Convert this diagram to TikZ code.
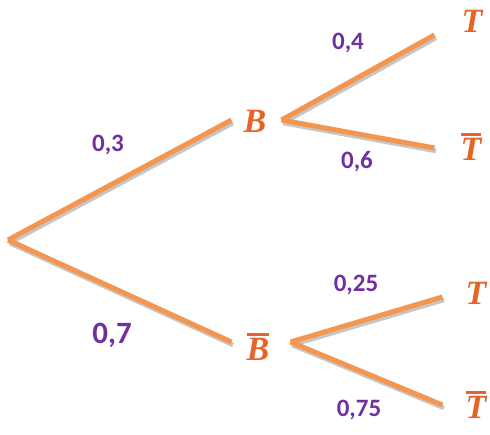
\documentclass[tikz,border=0pt]{standalone}
\usepackage{fontspec}
\setmainfont{Carlito}
\newfontfamily\letterfont{Liberation Serif}
\usetikzlibrary{positioning,calc}
\definecolor{brorange}{RGB}{245,150,80}
\definecolor{ltorange}{RGB}{230,100,40}
\definecolor{prpl}{RGB}{112,48,160}
\newcommand{\barletter}[1]{\vbox{\hrule height 3pt\kern 2.5pt\hbox{#1}}}

\begin{document}
\begin{tikzpicture}[
  x=1pt,y=1pt,
  branch/.style={line width=5pt,draw=brorange,
    preaction={draw=gray!45,line width=4.5pt,
      transform canvas={xshift=1.5pt,yshift=-3pt}}},
  event/.style={inner sep=0pt,text=ltorange,
    font=\letterfont\fontsize{34}{34}\selectfont\bfseries\itshape},
  prob/.style={inner sep=0pt,text=prpl,
    font=\fontsize{25}{25}\selectfont\bfseries}
]
\useasboundingbox (0,0) rectangle (490,-435);

% racine et premier niveau
\coordinate (root) at (8,-240);
\node[event] (B) at (255,-121) {B};
\node[event] (Bb) at (258,-347) {\barletter{B}};

% second niveau
\node[event] (T1) at (472,-21) {T};
\node[event] (T1b) at (471,-147) {\barletter{T}};
\node[event] (T2) at (476,-293) {T};
\node[event] (T2b) at (476,-405) {\barletter{T}};

% branches
\draw[branch] (root) -- ([xshift=-12pt,yshift=1pt]B.west);
\draw[branch] (root) -- ([xshift=-15pt,yshift=5pt]Bb.west);
\draw[branch] ([xshift=15pt,yshift=1pt]B.east) -- ([xshift=-27pt,yshift=-14pt]T1.west);
\draw[branch] ([xshift=15pt,yshift=1pt]B.east) -- ([xshift=-26pt,yshift=-1pt]T1b.west);
\draw[branch] ([xshift=21pt,yshift=5pt]Bb.east) -- ([xshift=-23pt,yshift=-4pt]T2.west);
\draw[branch] ([xshift=21pt,yshift=5pt]Bb.east) -- ([xshift=-23pt,yshift=0pt]T2b.west);

% probabilites
\node[prob] (p3) at (108,-145) {0,3};
\node[prob,font=\fontsize{31}{31}\selectfont\bfseries] (p7) at (112,-335) {0,7};
\node[prob] (p4) at (348,-43) {0,4};
\node[prob] (p6) at (357,-162) {0,6};
\node[prob] (p25) at (356,-285) {0,25};
\node[prob] (p75) at (359,-410) {0,75};
\end{tikzpicture}
\end{document}
